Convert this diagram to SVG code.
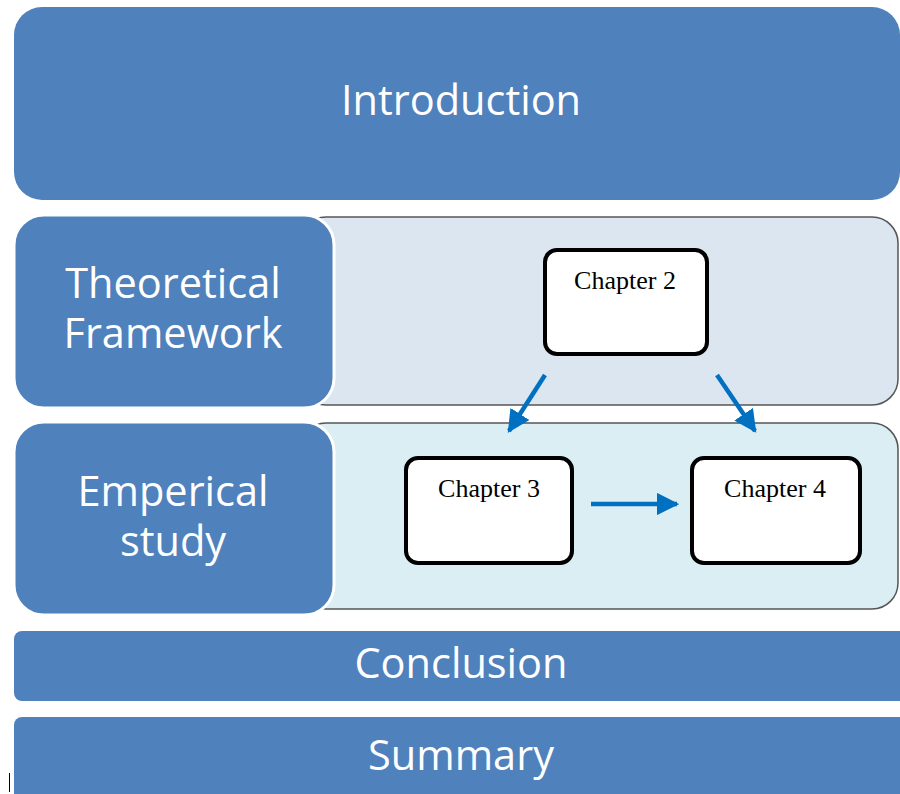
<svg xmlns="http://www.w3.org/2000/svg" width="900" height="794" viewBox="0 0 900 794">
  <defs>
    <style>
      .blk { fill: #4F81BD; }
      .lbl { fill: #ffffff; font-family: "Open Sans", "Noto Sans", sans-serif; font-size: 41.5px; text-anchor: middle; }
      .band { stroke: #555; stroke-width: 1.5; }
      .chap { fill: #ffffff; stroke: #000; stroke-width: 4; }
      .ctxt { fill: #000; font-family: "Liberation Serif", serif; font-size: 26px; text-anchor: middle; }
      .conn { stroke: #0070C0; stroke-width: 4.5; fill: none; marker-end: url(#head); }
    </style>
    <marker id="head" viewBox="0 0 10 10" refX="9" refY="5" markerWidth="5" markerHeight="5" markerUnits="strokeWidth" orient="auto">
      <path d="M0,0 L10,5 L0,10 z" fill="#0070C0"/>
    </marker>
  </defs>
  <rect width="900" height="794" fill="#ffffff"/>

  <!-- top block -->
  <g id="introduction">
    <rect class="blk" x="14" y="7" width="886" height="193" rx="28"/>
    <text class="lbl" x="461" y="115">Introduction</text>
  </g>

  <!-- theory row -->
  <g id="theory-band">
    <rect class="band" x="300" y="217" width="598" height="188" rx="26" fill="#DCE6F1"/>
  </g>
  <g id="theoretical-framework">
    <rect class="blk" x="14" y="215" width="320" height="193" rx="30" stroke="#ffffff" stroke-width="3"/>
    <text class="lbl" x="173" y="298">Theoretical</text>
    <text class="lbl" x="173" y="348">Framework</text>
  </g>

  <!-- empirical row -->
  <g id="empirical-band">
    <rect class="band" x="300" y="423" width="598" height="186" rx="26" fill="#DAEEF3"/>
  </g>
  <g id="emperical-study">
    <rect class="blk" x="14" y="422" width="320" height="193" rx="30" stroke="#ffffff" stroke-width="3"/>
    <text class="lbl" x="173" y="506">Emperical</text>
    <text class="lbl" x="173" y="556">study</text>
  </g>

  <!-- chapter boxes -->
  <g id="chapter-2">
    <rect class="chap" x="545" y="250" width="162" height="104" rx="12"/>
    <text class="ctxt" x="625" y="289">Chapter 2</text>
  </g>
  <g id="chapter-3">
    <rect class="chap" x="406" y="458" width="166" height="105" rx="12"/>
    <text class="ctxt" x="489" y="497">Chapter 3</text>
  </g>
  <g id="chapter-4">
    <rect class="chap" x="692" y="458" width="168" height="105" rx="12"/>
    <text class="ctxt" x="775" y="497">Chapter 4</text>
  </g>

  <!-- connectors -->
  <g id="connectors">
    <line class="conn" x1="545" y1="375" x2="509" y2="431"/>
    <line class="conn" x1="717" y1="375" x2="755" y2="431"/>
    <line class="conn" x1="591" y1="504" x2="677" y2="504"/>
  </g>

  <!-- bottom blocks -->
  <g id="conclusion">
    <rect class="blk" x="14" y="631" width="900" height="70" rx="8"/>
    <text class="lbl" x="461" y="678">Conclusion</text>
  </g>
  <g id="summary">
    <rect class="blk" x="14" y="717" width="900" height="90" rx="8"/>
    <text class="lbl" x="461" y="770">Summary</text>
  </g>

  <line x1="9.5" y1="773" x2="9.5" y2="792" stroke="#000" stroke-width="1"/>
</svg>
